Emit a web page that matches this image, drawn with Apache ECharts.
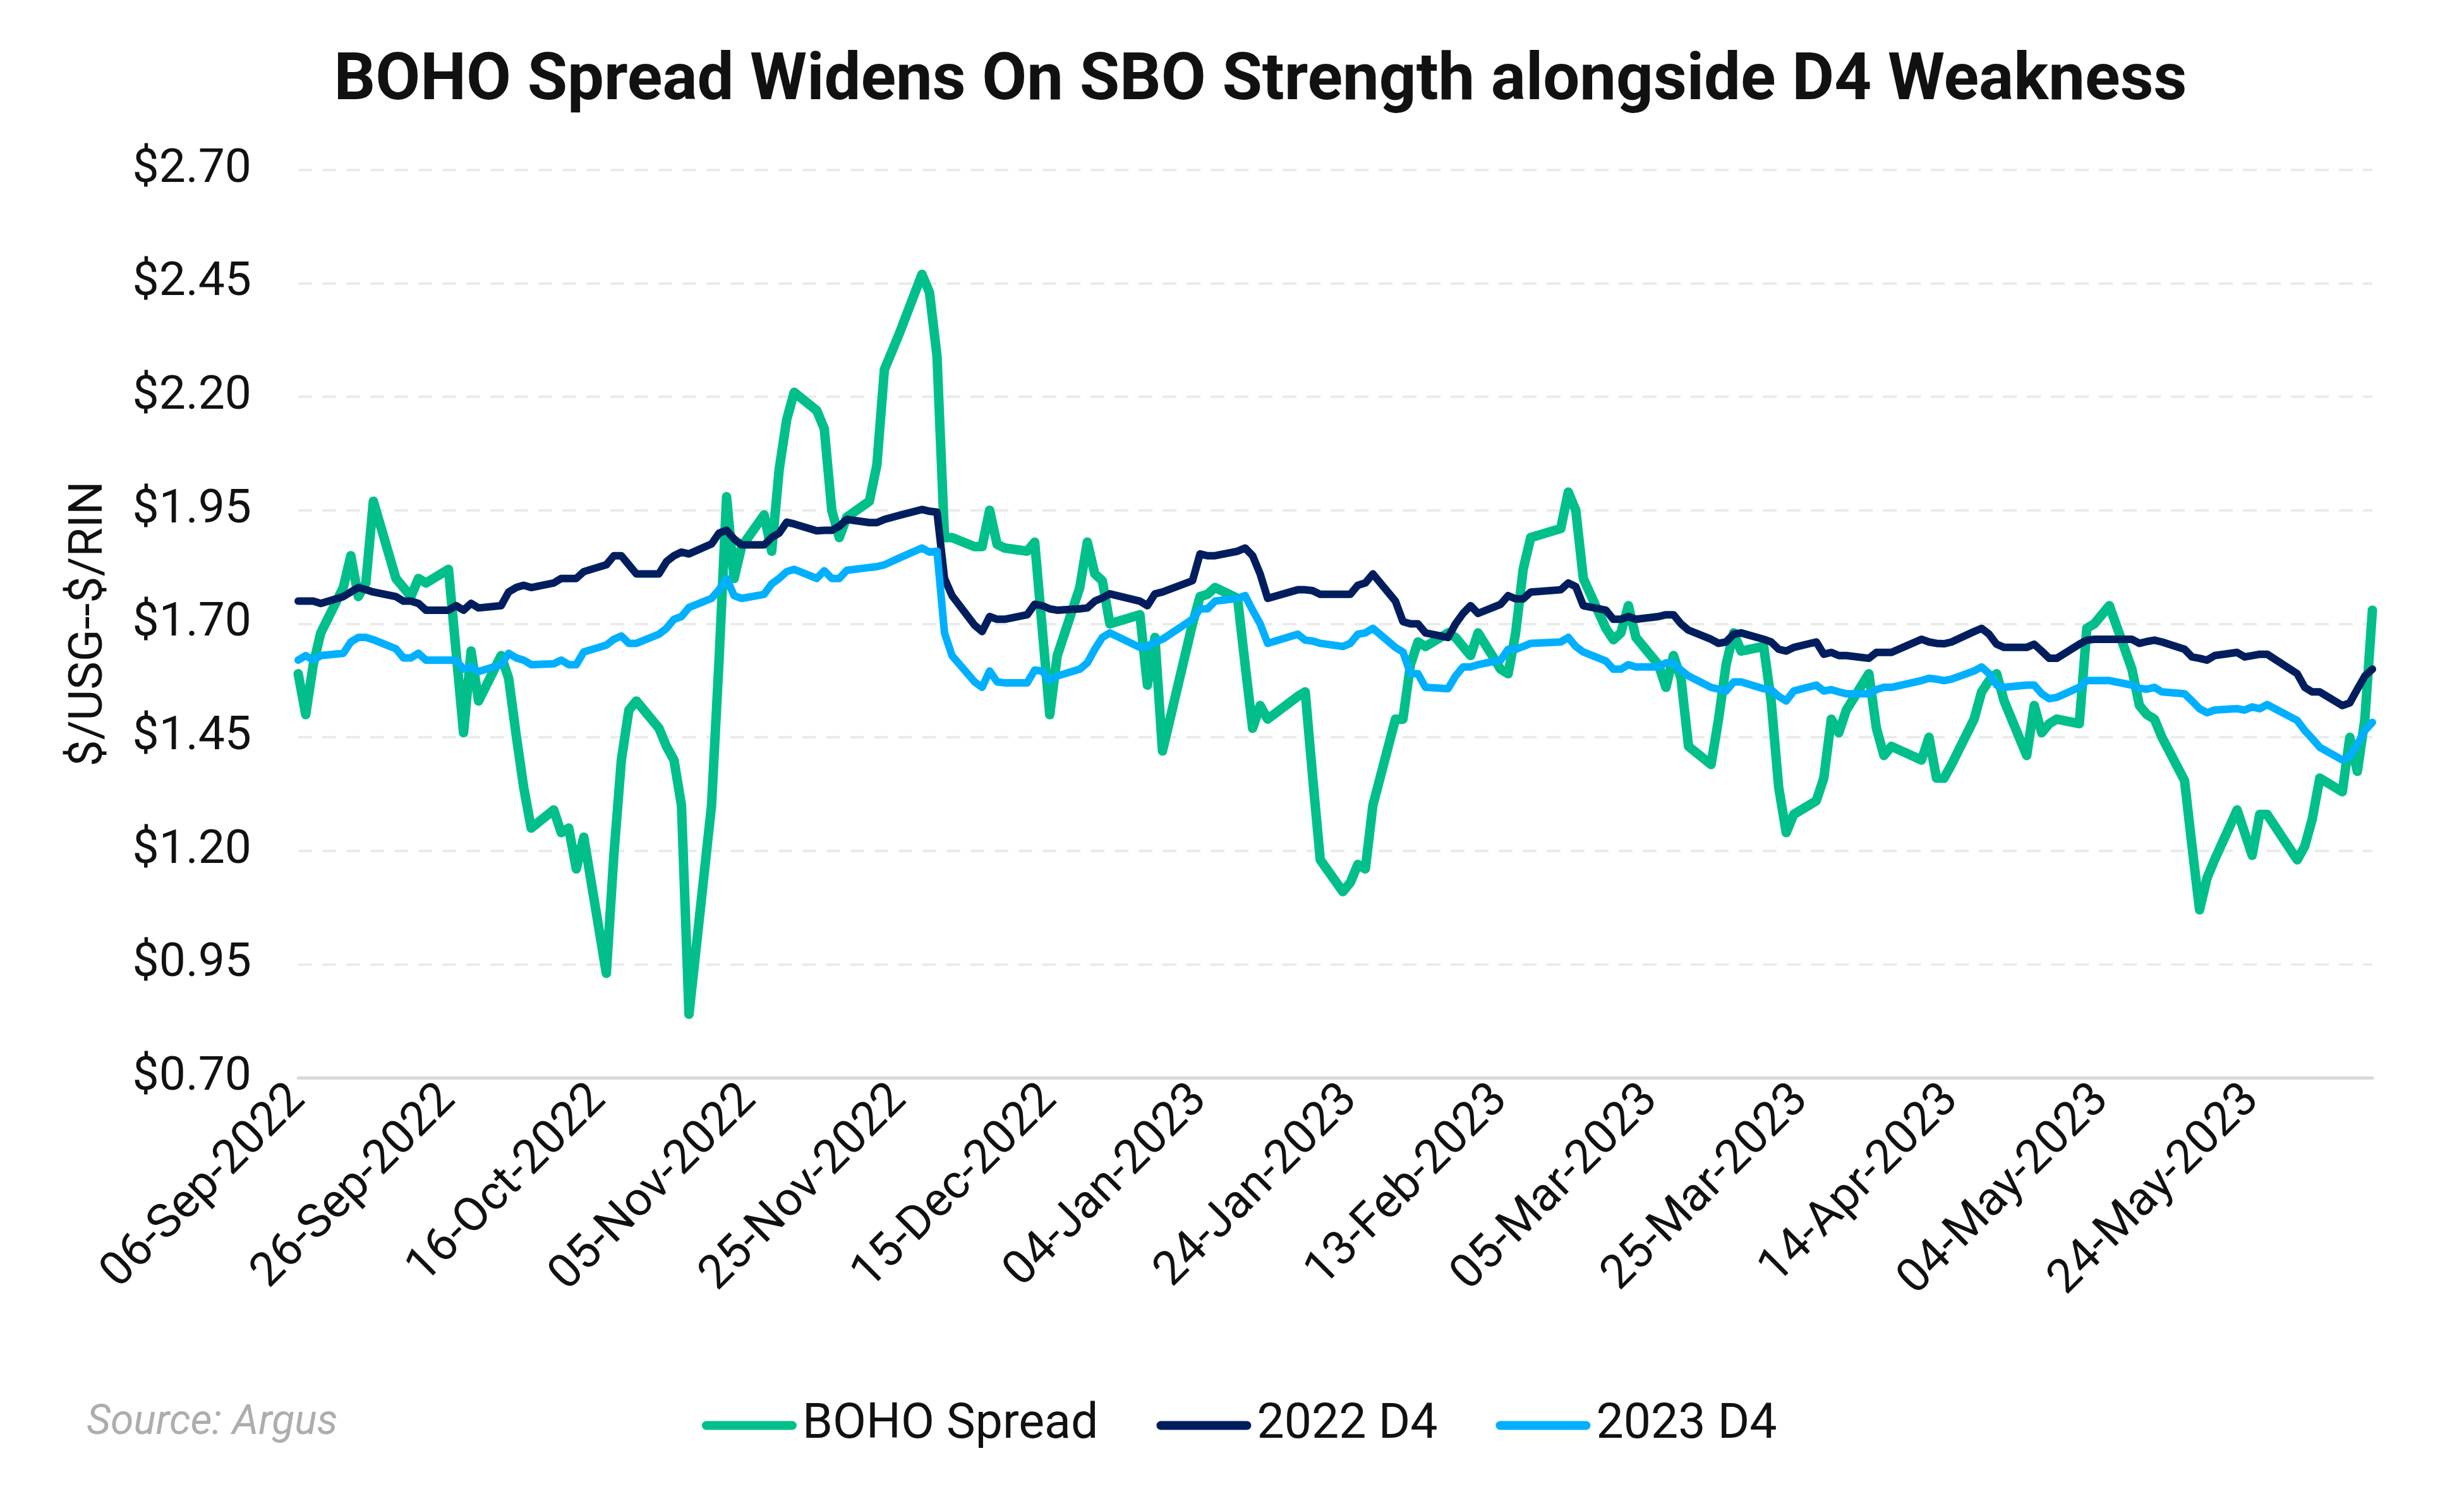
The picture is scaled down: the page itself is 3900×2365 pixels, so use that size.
<!DOCTYPE html>
<html>
<head>
<meta charset="utf-8">
<script src="https://cdn.jsdelivr.net/npm/echarts@6/dist/echarts.min.js"></script>
<style>
html,body{margin:0;padding:0;background:#fff;}
#chart{width:3900px;height:2365px;}
</style>
</head>
<body>
<div id="chart"></div>
<script>
// ---- data ----
const dates = [
'2022-09-06','2022-09-07','2022-09-08','2022-09-09','2022-09-12','2022-09-13','2022-09-14','2022-09-15','2022-09-16',
'2022-09-19','2022-09-20','2022-09-21','2022-09-22','2022-09-23','2022-09-26','2022-09-27','2022-09-28','2022-09-29','2022-09-30',
'2022-10-03','2022-10-04','2022-10-05','2022-10-06','2022-10-07','2022-10-10','2022-10-11','2022-10-12','2022-10-13','2022-10-14',
'2022-10-17','2022-10-18','2022-10-19','2022-10-20','2022-10-21','2022-10-24','2022-10-25','2022-10-26','2022-10-27','2022-10-28',
'2022-10-31','2022-11-01','2022-11-02','2022-11-03','2022-11-04','2022-11-07','2022-11-08','2022-11-09','2022-11-10','2022-11-11',
'2022-11-14','2022-11-15','2022-11-16','2022-11-17','2022-11-18','2022-11-21','2022-11-22','2022-11-23','2022-11-25',
'2022-11-28','2022-11-29','2022-11-30','2022-12-01','2022-12-02','2022-12-05','2022-12-06','2022-12-07','2022-12-08','2022-12-09',
'2022-12-12','2022-12-13','2022-12-14','2022-12-15','2022-12-16','2022-12-19','2022-12-20','2022-12-21','2022-12-22','2022-12-23',
'2022-12-27','2022-12-28','2022-12-29','2022-12-30','2023-01-03','2023-01-04','2023-01-05','2023-01-06',
'2023-01-09','2023-01-10','2023-01-11','2023-01-12','2023-01-13','2023-01-17','2023-01-18','2023-01-19','2023-01-20',
'2023-01-23','2023-01-24','2023-01-25','2023-01-26','2023-01-27','2023-01-30','2023-01-31','2023-02-01','2023-02-02','2023-02-03',
'2023-02-06','2023-02-07','2023-02-08','2023-02-09','2023-02-10','2023-02-13','2023-02-14','2023-02-15','2023-02-16','2023-02-17',
'2023-02-21','2023-02-22','2023-02-23','2023-02-24','2023-02-27','2023-02-28','2023-03-01','2023-03-02','2023-03-03',
'2023-03-06','2023-03-07','2023-03-08','2023-03-09','2023-03-10','2023-03-13','2023-03-14','2023-03-15','2023-03-16','2023-03-17',
'2023-03-20','2023-03-21','2023-03-22','2023-03-23','2023-03-24','2023-03-27','2023-03-28','2023-03-29','2023-03-30','2023-03-31',
'2023-04-03','2023-04-04','2023-04-05','2023-04-06','2023-04-10','2023-04-11','2023-04-12','2023-04-13','2023-04-14',
'2023-04-17','2023-04-18','2023-04-19','2023-04-20','2023-04-21','2023-04-24','2023-04-25','2023-04-26','2023-04-27','2023-04-28',
'2023-05-01','2023-05-02','2023-05-03','2023-05-04','2023-05-05','2023-05-08','2023-05-09','2023-05-10','2023-05-11','2023-05-12',
'2023-05-15','2023-05-16','2023-05-17','2023-05-18','2023-05-19','2023-05-22','2023-05-23','2023-05-24','2023-05-25','2023-05-26',
'2023-05-30','2023-05-31','2023-06-01','2023-06-02','2023-06-05','2023-06-06','2023-06-07','2023-06-08','2023-06-09'
];

const bohoSpread = [
1.59,1.50,1.61,1.68,1.78,1.85,1.76,1.79,1.97,
1.80,1.78,1.76,1.80,1.79,1.82,1.64,1.46,1.64,1.53,
1.63,1.58,1.455,1.34,1.25,1.29,1.24,1.25,1.16,1.23,
0.93,1.19,1.40,1.51,1.53,1.47,1.43,1.40,1.30,0.84,
1.30,1.62,1.98,1.80,1.87,1.94,1.86,2.04,2.15,2.21,
2.17,2.13,1.95,1.89,1.935,1.97,2.05,2.26,2.34,
2.47,2.43,2.29,1.89,1.89,1.87,1.87,1.95,1.875,1.867,
1.86,1.88,1.69,1.50,1.63,1.78,1.88,1.81,1.795,1.70,
1.72,1.565,1.67,1.42,1.70,1.76,1.765,1.78,
1.756,1.61,1.47,1.52,1.49,1.54,1.55,1.36,1.18,
1.11,1.13,1.17,1.16,1.30,1.49,1.49,1.61,1.66,1.65,
1.68,1.67,1.65,1.63,1.68,1.60,1.59,1.68,1.82,1.89,
1.91,1.99,1.95,1.80,1.69,1.665,1.68,1.74,1.67,
1.61,1.56,1.63,1.58,1.43,1.39,1.49,1.61,1.68,1.64,
1.65,1.53,1.34,1.24,1.28,1.31,1.36,1.49,1.46,1.51,
1.59,1.47,1.41,1.43,1.40,1.45,1.36,1.36,1.39,
1.49,1.55,1.575,1.59,1.53,1.41,1.52,1.46,1.48,1.49,
1.48,1.69,1.70,1.72,1.74,1.60,1.52,1.50,1.49,1.45,
1.355,1.21,1.07,1.14,1.18,1.29,1.24,1.19,1.28,1.28,
1.18,1.21,1.27,1.36,1.33,1.45,1.375,1.49,1.73
];

const d4_2022 = [
1.75,1.75,1.75,1.745,1.76,1.77,1.78,1.775,1.77,
1.76,1.75,1.75,1.745,1.73,1.73,1.74,1.73,1.745,1.735,
1.74,1.77,1.78,1.785,1.78,1.79,1.80,1.80,1.80,1.815,
1.83,1.85,1.85,1.83,1.81,1.81,1.837,1.85,1.858,1.854,
1.876,1.90,1.906,1.887,1.874,1.874,1.89,1.90,1.924,1.92,
1.905,1.906,1.906,1.915,1.93,1.923,1.923,1.93,1.939,
1.952,1.948,1.946,1.80,1.762,1.697,1.683,1.716,1.71,1.71,
1.72,1.743,1.74,1.733,1.73,1.733,1.735,1.75,1.757,1.766,
1.75,1.74,1.766,1.77,1.795,1.854,1.85,1.85,
1.86,1.867,1.85,1.81,1.756,1.775,1.775,1.773,1.765,
1.765,1.765,1.785,1.79,1.81,1.75,1.705,1.70,1.70,1.68,
1.67,1.70,1.723,1.74,1.723,1.743,1.762,1.755,1.755,1.77,
1.775,1.79,1.782,1.74,1.73,1.71,1.71,1.716,1.71,
1.716,1.72,1.72,1.70,1.686,1.666,1.657,1.66,1.677,1.68,
1.666,1.66,1.644,1.64,1.648,1.66,1.633,1.637,1.63,1.63,
1.624,1.637,1.637,1.637,1.666,1.66,1.657,1.656,1.66,
1.683,1.69,1.677,1.655,1.648,1.648,1.655,1.64,1.624,1.624,
1.655,1.664,1.666,1.666,1.666,1.666,1.657,1.661,1.664,1.66,
1.644,1.627,1.624,1.62,1.63,1.637,1.627,1.63,1.633,1.633,
1.59,1.56,1.55,1.55,1.52,1.526,1.556,1.585,1.60
];

const d4_2023 = [
1.62,1.63,1.62,1.63,1.635,1.66,1.67,1.67,1.665,
1.645,1.625,1.625,1.635,1.62,1.62,1.62,1.60,1.605,1.595,
1.61,1.635,1.625,1.62,1.61,1.612,1.62,1.61,1.61,1.638,
1.653,1.666,1.673,1.657,1.657,1.677,1.69,1.71,1.716,1.736,
1.756,1.775,1.80,1.762,1.756,1.765,1.788,1.80,1.815,1.82,
1.80,1.817,1.80,1.80,1.818,1.824,1.826,1.83,1.845,
1.867,1.858,1.86,1.68,1.63,1.572,1.56,1.596,1.572,1.57,
1.57,1.598,1.596,1.575,1.585,1.60,1.614,1.644,1.67,1.68,
1.648,1.65,1.66,1.666,1.71,1.733,1.733,1.75,
1.756,1.762,1.73,1.70,1.657,1.677,1.664,1.662,1.657,
1.65,1.657,1.677,1.68,1.69,1.648,1.638,1.59,1.59,1.56,
1.557,1.585,1.605,1.605,1.61,1.62,1.644,1.644,1.65,1.657,
1.66,1.67,1.65,1.638,1.618,1.60,1.60,1.61,1.605,
1.605,1.614,1.614,1.598,1.585,1.56,1.556,1.552,1.572,1.572,
1.557,1.555,1.54,1.53,1.552,1.565,1.552,1.555,1.55,1.546,
1.546,1.555,1.56,1.56,1.575,1.58,1.578,1.575,1.578,
1.596,1.605,1.59,1.565,1.56,1.565,1.565,1.546,1.535,1.538,
1.56,1.575,1.575,1.575,1.575,1.565,1.558,1.556,1.56,1.55,
1.546,1.53,1.513,1.504,1.51,1.513,1.51,1.517,1.513,1.522,
1.487,1.465,1.447,1.428,1.40,1.408,1.434,1.465,1.483
];

const seriesNames = ['BOHO Spread', '2022 D4', '2023 D4'];
const yTicks = { min: 0.70, max: 2.70, step: 0.25 };

// ---- axis construction (one category per calendar day) ----
const MONTHS = ['Jan','Feb','Mar','Apr','May','Jun','Jul','Aug','Sep','Oct','Nov','Dec'];
function parseUTC(s){ const p = s.split('-').map(Number); return Date.UTC(p[0], p[1]-1, p[2]); }
const categories = [];
for (let t = parseUTC(dates[0]); t <= parseUTC(dates[dates.length-1]); t += 86400000) {
  categories.push(new Date(t).toISOString().slice(0,10));
}
const indexOf = new Map(dates.map((d,i)=>[d,i]));
function toSeries(vals){ return categories.map(c => indexOf.has(c) ? vals[indexOf.get(c)] : null); }
function fmtDate(s){ const p = s.split('-'); return p[2] + '-' + MONTHS[Number(p[1])-1] + '-' + p[0]; }

const colors = ['#00BF8A', '#001E5E', '#00B0FF'];
const widths = [15, 12, 12];
const pill = 'path://M7,0 L143,0 A7,7 0 0 1 143,14 L7,14 A7,7 0 0 1 7,0 Z';

const chart = echarts.init(document.getElementById('chart'), null, {renderer:'canvas'});
const option = {
  animation: false,
  backgroundColor: '#ffffff',
  graphic: [
    { type:'text', x: 1995, y: 131, style:{ text:'BOHO Spread Widens On SBO Strength alongside D4 Weakness',
      font:'bold 103px Roboto', fill:'#111111', align:'center', verticalAlign:'middle' } },
    { type:'text', x: 137, y: 2253, style:{ text:'Source: Argus', font:'italic 66px Roboto', fill:'#ADADAD',
      align:'left', verticalAlign:'middle' } }
  ],
  legend: {
    data: seriesNames,
    left: 1106, top: 2213,
    icon: pill,
    itemWidth: 150, itemHeight: 14,
    itemGap: 92,
    textStyle: { fontFamily:'Roboto', fontSize: 77, color:'#111111', padding:[0,0,0,4] }
  },
  grid: { left: 472, right: 145, top: 269, bottom: 659, containLabel: false },
  xAxis: {
    type: 'category',
    data: categories,
    boundaryGap: false,
    axisLine: { show: true, lineStyle: { color:'#D9D9D9', width: 5 } },
    axisTick: { show: false },
    splitLine: { show: false },
    axisLabel: {
      interval: 19, rotate: 45, margin: 24,
      fontFamily: 'Roboto', fontSize: 75, color: '#111111',
      formatter: fmtDate
    }
  },
  yAxis: {
    type: 'value',
    min: yTicks.min, max: yTicks.max, interval: yTicks.step,
    name: '$/USG--$/RIN', nameLocation: 'middle', nameGap: 292, nameRotate: 90,
    nameTextStyle: { fontFamily:'Roboto', fontSize: 75, color:'#111111' },
    axisLine: { show: false }, axisTick: { show: false },
    axisLabel: { margin: 74, fontFamily:'Roboto', fontSize: 75, color:'#111111',
      formatter: v => '$' + v.toFixed(2) },
    splitLine: { show: true, lineStyle: { color:'#EBEBEB', width: 4, type:[22,16] } }
  },
  series: [bohoSpread, d4_2022, d4_2023].map((vals, i) => ({
    name: seriesNames[i], type: 'line', data: toSeries(vals),
    connectNulls: true, showSymbol: false, symbol: 'none',
    itemStyle: { color: colors[i] },
    lineStyle: { color: colors[i], width: widths[i], cap:'round', join:'round' }
  }))
};
chart.setOption(option);
</script>
</body>
</html>
